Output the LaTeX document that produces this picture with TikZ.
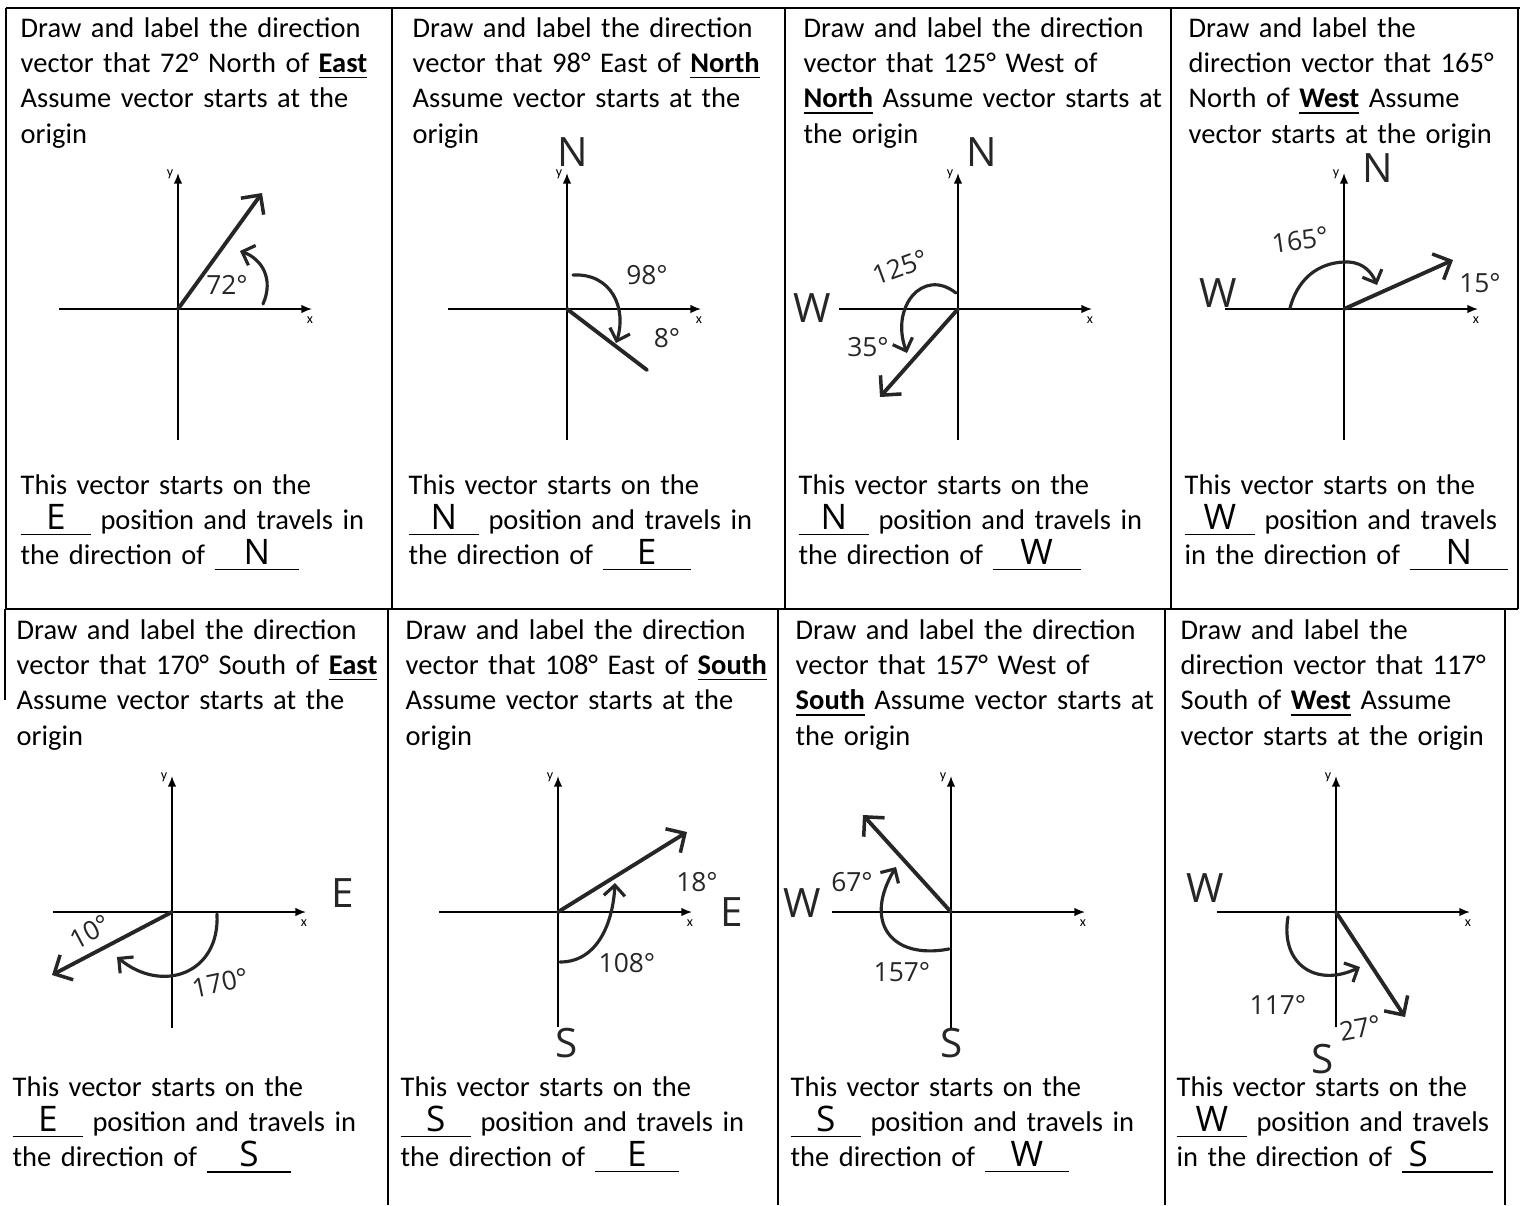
\documentclass[tikz,border=0pt]{standalone}
\usepackage{fontspec}
\setmainfont{Carlito}
\newfontfamily\handfont{Open Sans}
\usetikzlibrary{arrows.meta}
\newcommand{\ansblank}[2]{\underline{\makebox[#1]{\handfont\fontsize{10}{10}\selectfont #2}}}

\begin{document}
\begin{tikzpicture}[x=0.01cm, y=-0.01cm,
  cellline/.style={line width=0.5pt},
  axis/.style={line width=0.45pt, -{Latex[length=3pt,width=2.4pt]}},
  axlbl/.style={font=\fontsize{4}{4}\selectfont, inner sep=0pt},
  vec/.style={line width=1.1pt, line cap=round, black!85, -{Straight Barb[length=4pt,width=8pt,line width=1pt]}},
  turn/.style={line width=0.9pt, line cap=round, black!85, -{Straight Barb[length=3pt,width=6pt,line width=0.9pt]}},
  qtext/.style={anchor=base west, inner sep=0pt, text width=4.2cm, align=left, font=\fontsize{8.1}{10.05}\selectfont},
  dirlbl/.style={font=\handfont\fontsize{11.5}{11.5}\selectfont, inner sep=0pt, black!85},
  deg/.style={font=\handfont\fontsize{7.5}{7.5}\selectfont, inner sep=0pt, black!85}]
  \useasboundingbox (0,0) rectangle (1526,1205);

  % table
  \draw[cellline] (6,8) -- (1520,8);
  \draw[cellline] (5,609) -- (1518,609);
  \foreach \x in {6,392,785,1171,1518} \draw[cellline] (\x,8) -- (\x,609);
  \foreach \x in {388,778,1165,1505} \draw[cellline] (\x,609) -- (\x,1205);
  \draw[cellline] (5,609) -- (5,700);

  % axes
  \foreach \ox/\oy/\yb [count=\i] in {178/309/131, 567/309/131, 958/309/131, 1344/309/131,
                                     172/912/116, 558/912/115, 951/912/116, 1336/912/115} {
    \draw[axis] (\ox-119,\oy) -- (\ox+134,\oy);
    \draw[axis] (\ox,\oy+\yb) -- (\ox,\oy-136);
    \node[axlbl] (xl\i) at (\ox+132,\oy+11) {x};
    \node[axlbl] (yl\i) at (\ox-8,\oy-135) {y};
  }

  % 72 N of E
  \node[qtext] (q1) at (20,37) {Draw and label the direction\\vector that 72° North of \underline{\textbf{East}}\\Assume vector starts at the\\origin};
  \begin{scope}[shift={(178,309)}]
    \coordinate (o1) at (0,0);
    \coordinate (t1) at (84,-116);
    \draw[vec] (o1) -- (t1);
    \draw[turn] (85,-5) .. controls (96,-30) and (84,-50) .. (62,-58);
    \node[deg] (d1) at (49,-24) {72°};
  \end{scope}
  \node[qtext] (a1) at (20,494) {This vector starts on the\\\ansblank{20pt}{E} position and travels in\\the direction of \ansblank{24pt}{N}};

  % 98 E of N
  \node[qtext] (q2) at (412,37) {Draw and label the direction\\vector that 98° East of \underline{\textbf{North}}\\Assume vector starts at the\\origin};
  \begin{scope}[shift={(567,309)}]
    \coordinate (o2) at (0,0);
    \coordinate (t2) at (80,61);
    \draw[vec, -] (o2) -- (t2);
    \draw[turn] (6,-34) .. controls (45,-36) and (60,0) .. (49,34);
    \node[dirlbl] (n2) at (6,-157) {N};
    \node[deg] (d2a) at (80,-34) {98°};
    \node[deg] (d2b) at (100,29) {8°};
  \end{scope}
  \node[qtext] (a2) at (408,494) {This vector starts on the\\\ansblank{20pt}{N} position and travels in\\the direction of \ansblank{25pt}{E}};

  % 125 W of N
  \node[qtext] (q3) at (803,37) {Draw and label the direction\\vector that 125° West of\\\underline{\textbf{North}} Assume vector starts at\\the origin};
  \begin{scope}[shift={(958,309)}]
    \coordinate (o3) at (0,0);
    \coordinate (t3) at (-78,88);
    \draw[vec] (o3) -- (t3);
    \draw[turn] (-2,-16) .. controls (-35,-42) and (-68,-2) .. (-51,44);
    \node[dirlbl] (n3) at (24,-157) {N};
    \node[dirlbl] (w3) at (-146,-1) {W};
    \node[deg, rotate=20] (d3a) at (-58,-42) {125°};
    \node[deg] (d3b) at (-90,38) {35°};
  \end{scope}
  \node[qtext] (a3) at (798,494) {This vector starts on the\\\ansblank{20pt}{N} position and travels in\\the direction of \ansblank{25pt}{W}};

  % 165 N of W
  \node[qtext] (q4) at (1188,37) {Draw and label the\\direction vector that 165°\\North of \underline{\textbf{West}} Assume\\vector starts at the origin};
  \begin{scope}[shift={(1344,309)}]
    \coordinate (o4) at (0,0);
    \coordinate (t4) at (109,-49);
    \draw[vec] (o4) -- (t4);
    \draw[turn] (-54,-1) .. controls (-45,-35) and (-20,-48) .. (5,-47) .. controls (20,-46) and (28,-36) .. (33,-24);
    \node[dirlbl] (n4) at (34,-141) {N};
    \node[dirlbl] (w4) at (-126,-16) {W};
    \node[deg, rotate=8] (d4a) at (-44,-69) {165°};
    \node[deg] (d4b) at (136,-26) {15°};
  \end{scope}
  \node[qtext] (a4) at (1184,494) {This vector starts on the\\\ansblank{20pt}{W} position and travels\\in the direction of \ansblank{28pt}{N}};

  % 170 S of E
  \node[qtext] (q5) at (16,639) {Draw and label the direction\\vector that 170° South of \underline{\textbf{East}}\\Assume vector starts at the\\origin};
  \begin{scope}[shift={(172,912)}]
    \coordinate (o5) at (0,0);
    \coordinate (t5) at (-120,63);
    \draw[vec] (o5) -- (t5);
    \draw[turn] (45,2) .. controls (48,62) and (-10,82) .. (-55,45);
    \node[dirlbl] (e5) at (171,-19) {E};
    \node[deg, rotate=28] (d5a) at (-82,20) {10°};
    \node[deg, rotate=12] (d5b) at (48,71) {170°};
  \end{scope}
  \node[qtext] (a5) at (12,1096) {This vector starts on the\\\ansblank{20pt}{E} position and travels in\\the direction of \ansblank{24pt}{S}};

  % 108 E of S
  \node[qtext] (q6) at (405,639) {Draw and label the direction\\vector that 108° East of \underline{\textbf{South}}\\Assume vector starts at the\\origin};
  \begin{scope}[shift={(558,912)}]
    \coordinate (o6) at (0,0);
    \coordinate (t6) at (129,-80);
    \draw[vec] (o6) -- (t6);
    \draw[turn] (2,50) .. controls (40,50) and (55,10) .. (57,-29);
    \node[dirlbl] (s6) at (9,131) {S};
    \node[dirlbl] (e6) at (174,0) {E};
    \node[deg] (d6a) at (139,-30) {18°};
    \node[deg] (d6b) at (69,51) {108°};
  \end{scope}
  \node[qtext] (a6) at (400,1096) {This vector starts on the\\\ansblank{20pt}{S} position and travels in\\the direction of \ansblank{24pt}{E}};

  % 157 W of S
  \node[qtext] (q7) at (795,639) {Draw and label the direction\\vector that 157° West of\\\underline{\textbf{South}} Assume vector starts at\\the origin};
  \begin{scope}[shift={(951,912)}]
    \coordinate (o7) at (0,0);
    \coordinate (t7) at (-88,-97);
    \draw[vec] (o7) -- (t7);
    \draw[turn] (-2,37) .. controls (-60,48) and (-88,10) .. (-55,-45);
    \node[dirlbl] (s7) at (1,131) {S};
    \node[dirlbl] (w7) at (-149,-9) {W};
    \node[deg] (d7a) at (-99,-30) {67°};
    \node[deg] (d7b) at (-49,60) {157°};
  \end{scope}
  \node[qtext] (a7) at (790,1096) {This vector starts on the\\\ansblank{20pt}{S} position and travels in\\the direction of \ansblank{24pt}{W}};

  % 117 S of W
  \node[qtext] (q8) at (1180,639) {Draw and label the\\direction vector that 117°\\South of \underline{\textbf{West}} Assume\\vector starts at the origin};
  \begin{scope}[shift={(1336,912)}]
    \coordinate (o8) at (0,0);
    \coordinate (t8) at (69,105);
    \draw[vec] (o8) -- (t8);
    \draw[turn] (-48,5) .. controls (-56,52) and (-20,76) .. (24,55);
    \node[dirlbl] (w8) at (-131,-24) {W};
    \node[dirlbl] (s8) at (-13,147) {S};
    \node[deg] (d8a) at (-58,93) {117°};
    \node[deg, rotate=10] (d8b) at (24,116) {27°};
  \end{scope}
  \node[qtext] (a8) at (1176,1096) {This vector starts on the\\\ansblank{20pt}{W} position and travels\\in the direction of \ansblank{26pt}{\hspace{2pt}S\hfill}};
\end{tikzpicture}
\end{document}
